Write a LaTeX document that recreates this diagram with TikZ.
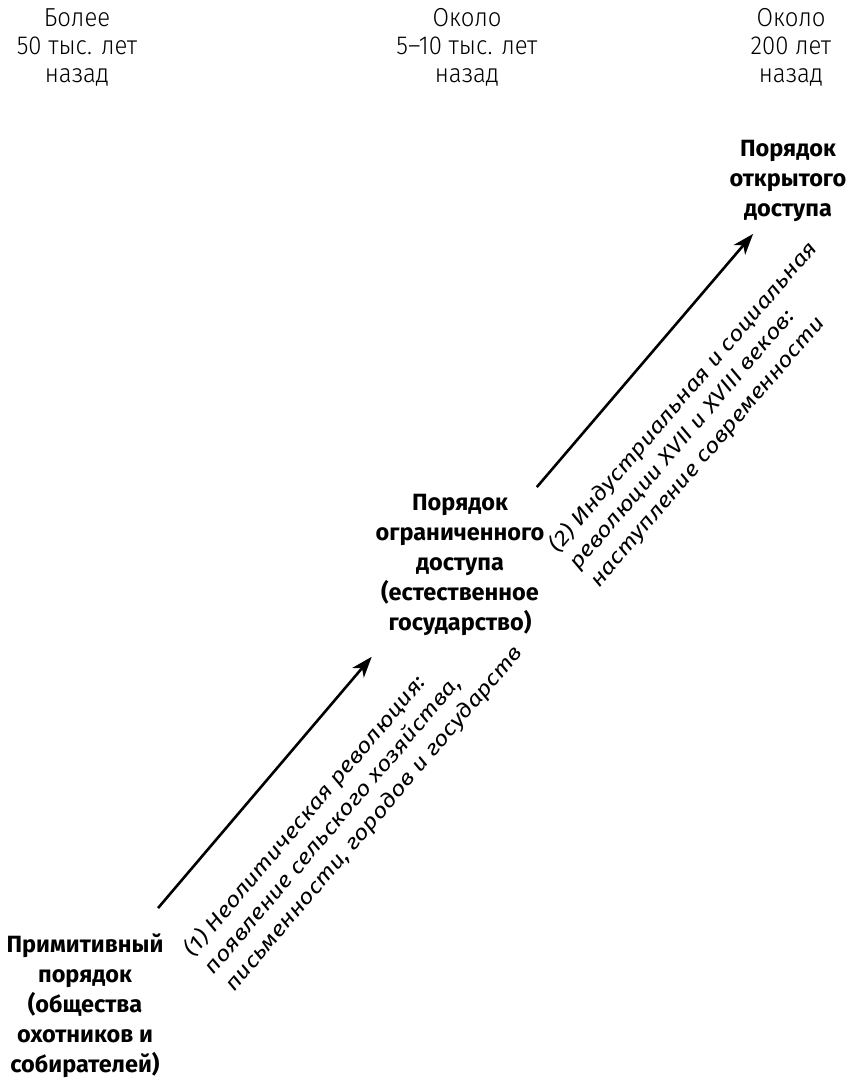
\documentclass[tikz,border=0pt]{standalone}
\usepackage{fontspec}
\setmainfont{Fira Sans}
\newfontfamily\lightfont[FakeStretch=0.92]{Fira Sans Light}
\newfontfamily\widefont[FakeStretch=1.18]{Fira Sans}
\usetikzlibrary{arrows.meta}

\tikzset{
  stage/.style={align=center, inner sep=0pt, font=\bfseries\fontsize{23.5}{30}\selectfont},
  era/.style={align=center, inner sep=0pt, anchor=north, font=\lightfont\fontsize{26}{28.3}\selectfont},
  cause/.style={align=left, inner sep=0pt, sloped, anchor=north, yshift=-40pt, font=\widefont\itshape\fontsize{21}{27}\selectfont},
  arr/.style={-{Stealth[length=21pt, width=15pt, inset=6pt]}, line width=2.6pt}
}

\begin{document}
\begin{tikzpicture}[x=1pt, y=-1pt]
        \useasboundingbox (0,0) rectangle (850,1079);

        % Epochs
        \node[era] (era1) at (77,8) {Более\\50 тыс. лет\\назад};
        \node[era] (era2) at (467,8) {Около\\5–10 тыс. лет\\назад};
        \node[era] (era3) at (791,8) {Около\\200 лет\\назад};

        % Orders
        \node[stage] (prim) at (85,1006) {Примитивный\\порядок\\(общества\\охотников и\\собирателей)};
        \node[stage] (lim) at (460,565) {Порядок\\ограниченного\\доступа\\(естественное\\государство)};
        \node[stage] (open) at (788,181) {Порядок\\открытого\\доступа};

        % Transitions
        \draw[arr, shorten <=122pt, shorten >=127pt]
            ([shift={(-6,-5)}]prim.center) -- node[cause, pos=0.57]
            {(1) Неолитическая революция:\\появление сельского хозяйства,\\письменности, городов и государств}
            ([shift={(-6,-5)}]lim.center);
        \draw[arr, shorten <=109pt, shorten >=63pt]
            ([shift={(6,5)}]lim.center) -- node[cause, pos=0.54]
            {(2) Индустриальная и социальная\\революции XVII и XVIII веков:\\наступление современности}
            ([shift={(6,5)}]open.center);
\end{tikzpicture}
\end{document}
